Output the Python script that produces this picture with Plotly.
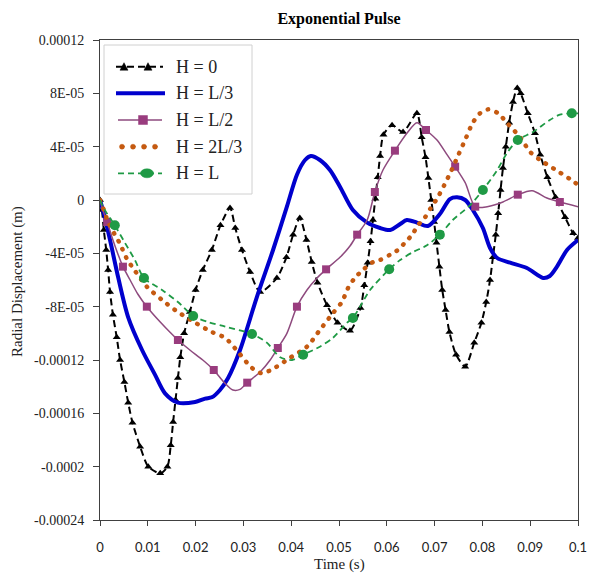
import plotly.graph_objects as go

SCALE = 1e-5  # displacement values below are in units of 1e-5 m

# ---- H = 0 (black dashed, triangles) ----
t_h0 = [0.0000, 0.0004, 0.0008, 0.0013, 0.0017, 0.0021, 0.0027, 0.0035, 0.0042, 0.0051,
        0.0059, 0.0068, 0.0084, 0.0101, 0.0126, 0.0141, 0.0148, 0.0153, 0.0158, 0.0163,
        0.0168, 0.0176, 0.0188, 0.0200, 0.0215, 0.0234, 0.0252, 0.0272, 0.0283, 0.0297,
        0.0314, 0.0335, 0.0370, 0.0390, 0.0404, 0.0418, 0.0432, 0.0443, 0.0455, 0.0475,
        0.0497, 0.0523, 0.0545, 0.0553, 0.0560, 0.0566, 0.0571, 0.0576, 0.0581, 0.0586,
        0.0593, 0.0611, 0.0634, 0.0663, 0.0673, 0.0681, 0.0687, 0.0693, 0.0699, 0.0704,
        0.0710, 0.0716, 0.0723, 0.0731, 0.0745, 0.0764, 0.0783, 0.0798, 0.0808, 0.0816,
        0.0822, 0.0828, 0.0833, 0.0838, 0.0843, 0.0849, 0.0856, 0.0864, 0.0873, 0.0880,
        0.0895, 0.0910, 0.0921, 0.0936, 0.0953, 0.0973, 0.0990, 0.1000]
y_h0 = [0.00, -0.75, -2.25, -3.75, -5.25, -6.9, -8.6, -10.3, -12.0, -13.65,
        -15.2, -16.7, -18.5, -20.0, -20.5, -20.0, -18.4, -16.65, -15.0, -13.35,
        -11.8, -10.0, -8.4, -6.75, -5.25, -3.75, -1.9, -0.6, -2.1, -3.75,
        -5.4, -6.9, -5.85, -4.3, -2.6, -1.35, -3.0, -4.65, -6.2, -7.9,
        -9.2, -9.8, -8.1, -6.4, -4.7, -3.1, -1.5, 0.1, 1.7, 3.3,
        4.9, 5.6, 5.1, 6.5, 4.7, 3.2, 1.65, 0.0, -1.65, -3.2,
        -5.0, -6.75, -8.25, -9.9, -11.6, -12.5, -10.7, -9.2, -7.65, -6.0,
        -4.3, -2.6, -1.0, 0.75, 2.4, 4.0, 5.8, 7.35, 8.4, 8.0,
        6.5, 5.0, 3.4, 1.7, 0.2, -1.3, -2.5, -2.85]

# ---- H = L/3 (blue thick) ----
t_h1 = [0.0000, 0.0006, 0.0021, 0.0038, 0.0059, 0.0088, 0.0115, 0.0136, 0.0163, 0.0199,
        0.0220, 0.0234, 0.0251, 0.0268, 0.0293, 0.0328, 0.0362, 0.0391, 0.0412, 0.0429,
        0.0441, 0.0460, 0.0481, 0.0502, 0.0529, 0.0559, 0.0586, 0.0607, 0.0628, 0.0642,
        0.0663, 0.0686, 0.0711, 0.0732, 0.0747, 0.0764, 0.0780, 0.0801, 0.0816, 0.0831,
        0.0858, 0.0893, 0.0927, 0.0941, 0.0956, 0.0977, 0.1000]
y_h1 = [0.0, -0.75, -3.0, -5.8, -8.8, -11.25, -13.1, -14.5, -15.2, -15.15,
        -14.9, -14.8, -14.25, -13.35, -11.25, -7.3, -3.75, -0.5, 1.9, 3.0,
        3.3, 3.0, 2.25, 1.0, -0.75, -1.7, -2.1, -2.25, -1.8, -1.5,
        -1.7, -1.95, -1.05, 0.07, 0.2, 0.0, -0.75, -2.1, -3.6, -4.35,
        -4.7, -5.1, -5.85, -5.7, -5.0, -3.75, -3.0]

# ---- H = L/2 (purple thin, squares) ----
t_h2 = [0.0000, 0.0006, 0.0015, 0.0027, 0.0038, 0.0048, 0.0063, 0.0079, 0.0098, 0.0126,
        0.0146, 0.0163, 0.0188, 0.0215, 0.0238, 0.0259, 0.0278, 0.0293, 0.0308, 0.0335,
        0.0356, 0.0372, 0.0391, 0.0412, 0.0433, 0.0454, 0.0473, 0.0502, 0.0523, 0.0538,
        0.0559, 0.0575, 0.0592, 0.0617, 0.0642, 0.0663, 0.0682, 0.0705, 0.0726, 0.0743,
        0.0764, 0.0785, 0.0810, 0.0843, 0.0874, 0.0904, 0.0935, 0.0962, 0.1000]
y_h2 = [0.0, -0.75, -1.65, -3.0, -4.1, -5.0, -6.0, -7.05, -8.0, -9.15,
        -9.9, -10.5, -11.25, -12.0, -12.75, -13.65, -14.25, -14.2, -13.7, -12.9,
        -12.0, -11.1, -10.0, -8.0, -6.75, -5.85, -5.2, -4.3, -3.45, -2.6,
        -1.5, 0.6, 2.25, 3.7, 5.0, 5.8, 5.25, 4.5, 3.4, 2.5,
        1.3, -0.5, -0.5, -0.15, 0.4, 0.7, 0.15, -0.15, -0.5]
t_h2_mk = [0.0015, 0.0048, 0.0098, 0.0163, 0.0238, 0.0308, 0.0372, 0.0412, 0.0473,
           0.0538, 0.0575, 0.0617, 0.0682, 0.0743, 0.0785, 0.0874, 0.0962]
y_h2_mk = [-1.65, -5.0, -8.0, -10.5, -12.75, -13.7, -11.1, -8.0, -5.2,
           -2.6, 0.6, 3.7, 5.25, 2.5, -0.5, 0.4, -0.15]

# ---- H = 2L/3 (orange dotted) ----
t_h3 = [0.0000, 0.0008, 0.0017, 0.0031, 0.0042, 0.0056, 0.0073, 0.0098, 0.0130, 0.0157,
        0.0199, 0.0234, 0.0262, 0.0289, 0.0318, 0.0339, 0.0360, 0.0397, 0.0433, 0.0460,
        0.0487, 0.0506, 0.0519, 0.0533, 0.0550, 0.0569, 0.0586, 0.0607, 0.0623, 0.0638,
        0.0653, 0.0665, 0.0680, 0.0692, 0.0705, 0.0720, 0.0735, 0.0750, 0.0765, 0.0780,
        0.0795, 0.0812, 0.0833, 0.0851, 0.0879, 0.0900, 0.0921, 0.0956, 0.0994, 0.1000]
y_h3 = [0.0, -0.75, -1.65, -2.6, -3.3, -4.4, -5.3, -6.5, -7.5, -8.25,
        -9.2, -9.9, -10.35, -11.4, -12.6, -13.0, -12.7, -11.85, -11.0, -9.75,
        -8.5, -7.65, -6.6, -5.85, -5.25, -4.7, -4.5, -4.1, -3.75, -3.2,
        -2.6, -1.9, -1.3, -0.6, 0.1, 1.1, 2.2, 3.4, 4.6, 5.8,
        6.5, 6.8, 6.5, 5.8, 4.7, 3.6, 3.0, 2.2, 1.3, 1.1]

# ---- H = L (green dashed, ovals) ----
t_h4 = [0.0000, 0.0010, 0.0031, 0.0052, 0.0073, 0.0092, 0.0130, 0.0163, 0.0195, 0.0226,
        0.0262, 0.0318, 0.0349, 0.0377, 0.0402, 0.0425, 0.0460, 0.0487, 0.0517, 0.0529,
        0.0544, 0.0565, 0.0605, 0.0628, 0.0655, 0.0684, 0.0711, 0.0738, 0.0774, 0.0801,
        0.0831, 0.0851, 0.0874, 0.0906, 0.0941, 0.0962, 0.0987, 0.1000]
y_h4 = [0.0, -0.75, -1.9, -3.2, -4.5, -5.85, -6.75, -7.65, -8.7, -9.15,
        -9.5, -10.05, -10.7, -11.8, -12.0, -11.6, -11.0, -10.35, -9.2, -8.85,
        -8.0, -6.75, -5.2, -4.5, -3.9, -3.4, -2.6, -1.5, -0.4, 0.75,
        2.25, 3.5, 4.5, 5.1, 6.0, 6.4, 6.5, 6.5]
t_h4_mk = [0.0031, 0.0092, 0.0195, 0.0318, 0.0425, 0.0529, 0.0605, 0.0711, 0.0801, 0.0874, 0.0987]
y_h4_mk = [-1.9, -5.85, -8.7, -10.05, -11.6, -8.85, -5.2, -2.6, 0.75, 4.5, 6.5]

# ---- axes / legend text ----
x_tick_vals = [0, 0.01, 0.02, 0.03, 0.04, 0.05, 0.06, 0.07, 0.08, 0.09, 0.1]
x_tick_text = ["0", "0.01", "0.02", "0.03", "0.04", "0.05", "0.06", "0.07", "0.08", "0.09", "0.1"]
y_tick_vals = [0.00012, 0.00008, 0.00004, 0, -0.00004, -0.00008, -0.00012, -0.00016, -0.0002, -0.00024]
y_tick_text = ["0.00012", "8E-05", "4E-05", "0", "-4E-05", "-8E-05", "-0.00012", "-0.00016", "-0.0002", "-0.00024"]
series_names = ["H = 0", "H = L/3", "H = L/2", "H = 2L/3", "H = L"]


def sc(vals):
    return [v * SCALE for v in vals]


SERIF = "Liberation Serif, Times New Roman, serif"
SANS = "Lato, Carlito, Calibri, sans-serif"
BLACK = "#000000"
BLUE = "#0000CD"
PURPLE_LINE = "#8E4A7E"
PURPLE = "#993C7E"
ORANGE = "#C55A11"
GREEN = "#1F9A45"
TEXT = "#222222"

fig = go.Figure()

fig.add_trace(go.Scatter(
    x=t_h0, y=sc(y_h0), mode="lines+markers", name=series_names[0],
    line=dict(color=BLACK, width=2, dash="7px,4px", shape="spline", smoothing=0.7),
    marker=dict(symbol="triangle-up", size=7, color=BLACK)))

fig.add_trace(go.Scatter(
    x=t_h1, y=sc(y_h1), mode="lines", name=series_names[1],
    line=dict(color=BLUE, width=4, shape="spline", smoothing=0.8)))

fig.add_trace(go.Scatter(
    x=t_h2, y=sc(y_h2), mode="lines", name=series_names[2],
    line=dict(color=PURPLE_LINE, width=1.5, shape="spline", smoothing=0.8)))
fig.add_trace(go.Scatter(
    x=t_h2_mk, y=sc(y_h2_mk), mode="markers", name=series_names[2],
    marker=dict(symbol="square", size=8, color=PURPLE)))

fig.add_trace(go.Scatter(
    x=t_h3, y=sc(y_h3), mode="lines", name=series_names[3],
    line=dict(color=ORANGE, width=4.5, dash="0.5px,8.5px", shape="spline", smoothing=0.8)))

fig.add_trace(go.Scatter(
    x=t_h4, y=sc(y_h4), mode="lines", name=series_names[4],
    line=dict(color=GREEN, width=1.8, dash="6px,4px", shape="spline", smoothing=0.8)))
fig.add_trace(go.Scatter(
    x=t_h4_mk, y=sc(y_h4_mk), mode="markers", name=series_names[4],
    marker=dict(symbol="circle", size=10, color=GREEN)))

# ---- layout helpers (pixel -> paper for the legend box) ----
PL, PR, PT, PB = 100, 578, 40, 520


def xp(px):
    return (px - PL) / (PR - PL)


def yp(py):
    return (PB - py) / (PB - PT)


rows = [66.7, 93.3, 120.0, 146.7, 173.3]
shapes = [dict(type="rect", xref="paper", yref="paper", layer="above",
               x0=xp(104), x1=xp(252), y0=yp(194), y1=yp(45),
               line=dict(color="#D0D0D0", width=1), fillcolor="white")]


def tri(cx, cy, color):
    pts = [(cx - 4, cy + 3.5), (cx + 4, cy + 3.5), (cx, cy - 4)]
    d = "M" + " L".join(f"{xp(a):.5f},{yp(b):.5f}" for a, b in pts) + " Z"
    return dict(type="path", xref="paper", yref="paper", layer="above", path=d,
                fillcolor=color, line=dict(color=color, width=0.5))


# row 1: black dashed with triangles
shapes.append(dict(type="line", xref="paper", yref="paper", layer="above",
                   x0=xp(116), x1=xp(163), y0=yp(rows[0]), y1=yp(rows[0]),
                   line=dict(color=BLACK, width=2, dash="7px,4px")))
shapes.append(tri(124, rows[0], BLACK))
shapes.append(tri(148, rows[0], BLACK))
# row 2: blue thick
shapes.append(dict(type="line", xref="paper", yref="paper", layer="above",
                   x0=xp(116), x1=xp(165), y0=yp(rows[1]), y1=yp(rows[1]),
                   line=dict(color=BLUE, width=4)))
# row 3: purple with square
shapes.append(dict(type="line", xref="paper", yref="paper", layer="above",
                   x0=xp(118), x1=xp(162), y0=yp(rows[2]), y1=yp(rows[2]),
                   line=dict(color=PURPLE_LINE, width=1.5)))
shapes.append(dict(type="rect", xref="paper", yref="paper", layer="above",
                   x0=xp(138.5), x1=xp(147.5), y0=yp(rows[2] + 4.5), y1=yp(rows[2] - 4.5),
                   fillcolor=PURPLE, line=dict(color=PURPLE, width=0.5)))
# row 4: orange dots
for cx in [122, 133, 144, 155]:
    shapes.append(dict(type="circle", xref="paper", yref="paper", layer="above",
                       x0=xp(cx - 2.5), x1=xp(cx + 2.5), y0=yp(rows[3] + 2.5), y1=yp(rows[3] - 2.5),
                       fillcolor=ORANGE, line=dict(color=ORANGE, width=0.5)))
# row 5: green dashed with oval
shapes.append(dict(type="line", xref="paper", yref="paper", layer="above",
                   x0=xp(118), x1=xp(162), y0=yp(rows[4]), y1=yp(rows[4]),
                   line=dict(color=GREEN, width=1.8, dash="6px,4px")))
shapes.append(dict(type="circle", xref="paper", yref="paper", layer="above",
                   x0=xp(140.5), x1=xp(153.5), y0=yp(rows[4] + 4.5), y1=yp(rows[4] - 4.5),
                   fillcolor=GREEN, line=dict(color=GREEN, width=0.5)))

annotations = [
    dict(text="Time (s)", x=0.5, xref="paper", y=yp(564), yref="paper",
         xanchor="center", yanchor="middle", showarrow=False,
         font=dict(family=SERIF, size=15, color=TEXT)),
    dict(text="Radial Displacement (m)", x=xp(17), xref="paper", y=yp(282), yref="paper",
         xanchor="center", yanchor="middle", textangle=-90, showarrow=False,
         font=dict(family=SERIF, size=15, color=TEXT)),
]
for name, ry in zip(series_names, rows):
    annotations.append(dict(text=name, x=xp(174), xref="paper", y=yp(ry), yref="paper",
                            xanchor="left", yanchor="middle", showarrow=False,
                            font=dict(family=SERIF, size=18, color=TEXT)))

axis_line = "#404040"
fig.update_layout(
    width=589, height=573,
    margin=dict(l=PL, r=589 - PR, t=PT, b=573 - PB, autoexpand=False),
    paper_bgcolor="white", plot_bgcolor="white",
    showlegend=False,
    title=dict(text="<b>Exponential Pulse</b>", x=0.5, xref="paper", xanchor="center",
               y=1 - 18 / 573, yref="container", yanchor="middle",
               font=dict(family=SERIF, size=16, color="black")),
    xaxis=dict(range=[0, 0.1], tickmode="array", tickvals=x_tick_vals, ticktext=x_tick_text,
               showline=True, linecolor=axis_line, linewidth=1, mirror=True, automargin=False,
               ticks="outside", ticklen=5, tickcolor=axis_line, showgrid=False, zeroline=False,
               tickfont=dict(family=SANS, size=13, color=TEXT), ticklabelstandoff=10),
    yaxis=dict(range=[-0.00024, 0.00012], tickmode="array", tickvals=y_tick_vals, ticktext=y_tick_text,
               showline=True, linecolor=axis_line, linewidth=1, mirror=True, automargin=False,
               ticks="outside", ticklen=6, tickcolor=axis_line, showgrid=False, zeroline=False,
               tickfont=dict(family=SERIF, size=14, color=TEXT), ticklabelstandoff=6),
    shapes=shapes,
    annotations=annotations,
)

post = """
document.querySelectorAll('path').forEach(function(p){
  var s = (p.style.stroke || '').replace(/\\s/g, '');
  if (s === 'rgb(197,90,17)') { p.style.strokeLinecap = 'round'; }
});
"""
fig.write_html("out.html", post_script=post)
